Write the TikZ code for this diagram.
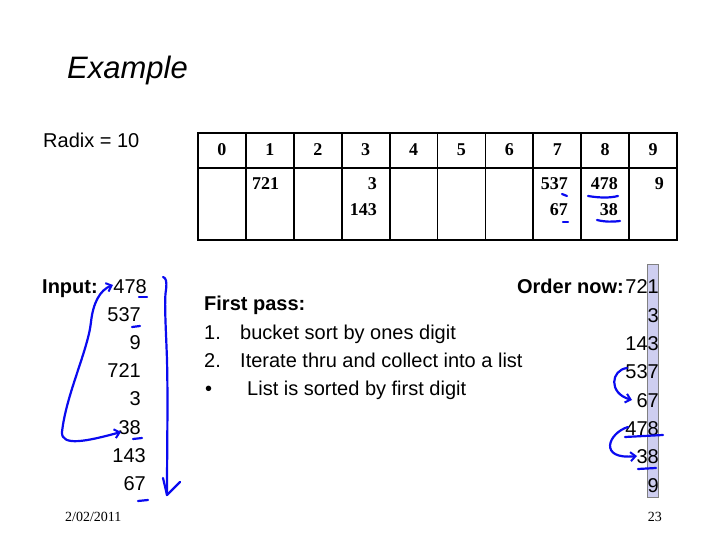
\documentclass[tikz,border=0pt]{standalone}
\usepackage{fontspec}
\setmainfont{Liberation Sans}
\newfontfamily\tnr{Liberation Serif}
\usetikzlibrary{arrows.meta}
\definecolor{pen}{RGB}{10,10,240}
\definecolor{hil}{RGB}{206,206,240}
\tikzset{
  txt/.style={inner sep=0pt, font=\fontsize{20}{24}\selectfont},
  btxt/.style={inner sep=0pt, font=\bfseries\fontsize{20}{24}\selectfont},
  cell/.style={inner sep=0pt, font=\tnr\bfseries\fontsize{18}{20}\selectfont},
  foot/.style={inner sep=0pt, font=\tnr\fontsize{14}{16}\selectfont},
  grid/.style={draw=black, line width=1.8pt},
  penline/.style={draw=pen, line width=2.2pt, line cap=round, line join=round},
  pentip/.style={-{Straight Barb[length=5pt,width=9pt,line width=2pt]}},
}
\begin{document}
\begin{tikzpicture}[x=1pt,y=-1pt]
\useasboundingbox (0,0) rectangle (720,540);
\fill[white] (0,0) rectangle (720,540);

% title
\node[inner sep=0pt, anchor=base west, font=\itshape\fontsize{31}{36}\selectfont] (title) at (67,79) {Example};
\node[txt, anchor=base west] (radix) at (43,148) {Radix = 10};

% table
\draw[grid] (198,133) rectangle (677,240);
\draw[grid] (198,168) -- (677,168);
\foreach \i in {1,...,9} {
  \draw[grid] ({198+\i*47.9},133) -- ({198+\i*47.9},240);
}
\foreach \i in {0,...,9} {
  \node[cell, anchor=base] (h\i) at ({198+\i*47.9+23.95},156) {\i};
}
\node[cell, anchor=base west] (c721) at (252,190) {721};
\node[cell, anchor=base east] (c3) at (377,190) {3};
\node[cell, anchor=base east] (c143) at (377,215) {143};
\node[cell, anchor=base east] (c537) at (568,190) {537};
\node[cell, anchor=base east] (c67) at (568,215) {67};
\node[cell, anchor=base east] (c478) at (618,190) {478};
\node[cell, anchor=base east] (c38) at (618,215) {38};
\node[cell, anchor=base east] (c9) at (664,190) {9};

% table pen marks
\draw[penline] (562,194) -- (567,196);
\draw[penline] (563,222) -- (568,222);
\draw[penline] (588,196) .. controls (600,198) and (610,198) .. (618,196);
\draw[penline] (597,220) .. controls (605,222) and (613,222) .. (620,221);

% input column
\node[btxt, anchor=base west] (inlab) at (42,293) {Input:};
\node[txt, anchor=base east] (i1) at (147,293) {478};
\node[txt, anchor=base east] (i2) at (141,321) {537};
\node[txt, anchor=base east] (i3) at (141,349) {9};
\node[txt, anchor=base east] (i4) at (141,377) {721};
\node[txt, anchor=base east] (i5) at (141,405) {3};
\node[txt, anchor=base east] (i6) at (141,434) {38};
\node[txt, anchor=base east] (i7) at (146,462) {143};
\node[txt, anchor=base east] (i8) at (146,490) {67};

% input pen marks
\draw[penline] (139,297) -- (147,297);
\draw[penline] (132,327) -- (140,326);
\draw[penline] (133,439) -- (142,438);
\draw[penline] (138,501) -- (148,500);
\coordinate (bigA) at (113,285);
\coordinate (bigB) at (121,432);
\draw[penline, {Straight Barb[length=5pt,width=9pt,line width=2pt]}-{Straight Barb[length=5pt,width=9pt,line width=2pt]}]
  (bigA) .. controls (100,290) and (93,303) .. (91,322)
  .. controls (88,350) and (66,395) .. (62,432)
  .. controls (61,447) and (88,441) .. (bigB);
\coordinate (brT) at (163,277);
\coordinate (brB) at (167,495);
\draw[penline] (brT) .. controls (166,278) and (167,281) .. (166,290)
  .. controls (164,300) and (166,330) .. (167,360)
  .. controls (168,400) and (167,450) .. (brB);
\draw[penline] (163,478) -- (brB) -- (180,482);

% first pass text
\node[btxt, anchor=base west] (fp) at (204,310) {First pass:};
\node[txt, anchor=base west] (n1) at (204,339) {1.};
\node[txt, anchor=base west] (t1) at (240,339) {bucket sort by ones digit};
\node[txt, anchor=base west] (n2) at (204,367) {2.};
\node[txt, anchor=base west] (t2) at (240,367) {Iterate thru and collect into a list};
\node[txt, anchor=base west] (n3) at (205,395) {•};
\node[txt, anchor=base west] (t3) at (247,395) {List is sorted by first digit};

% order now column
\draw[draw=gray, fill=hil, line width=0.8pt] (647,264) rectangle (658,497);
\node[btxt, anchor=base east] (olab) at (624,293) {Order now:};
\node[txt, anchor=base east] (o1) at (659,293) {721};
\node[txt, anchor=base east] (o2) at (659,322) {3};
\node[txt, anchor=base east] (o3) at (659,350) {143};
\node[txt, anchor=base east] (o4) at (659,378) {537};
\node[txt, anchor=base east] (o5) at (659,407) {67};
\node[txt, anchor=base east] (o6) at (659,435) {478};
\node[txt, anchor=base east] (o7) at (659,463) {38};
\node[txt, anchor=base east] (o8) at (659,492) {9};

% order pen marks
\coordinate (oa1) at (627,368);
\coordinate (ob1) at (632,400);
\draw[penline, pentip] (oa1) .. controls (611,370) and (608,393) .. (ob1);
\coordinate (oa2) at (628,427);
\coordinate (ob2) at (637,456);
\draw[penline, pentip] (oa2) .. controls (608,433) and (598,460) .. (ob2);
\draw[penline] (625,437) -- (663,435);
\draw[penline] (638,469) -- (656,468);

% footer
\node[foot, anchor=base west] (date) at (65,521) {2/02/2011};
\node[foot, anchor=base east] (page) at (662,521) {23};
\end{tikzpicture}
\end{document}
